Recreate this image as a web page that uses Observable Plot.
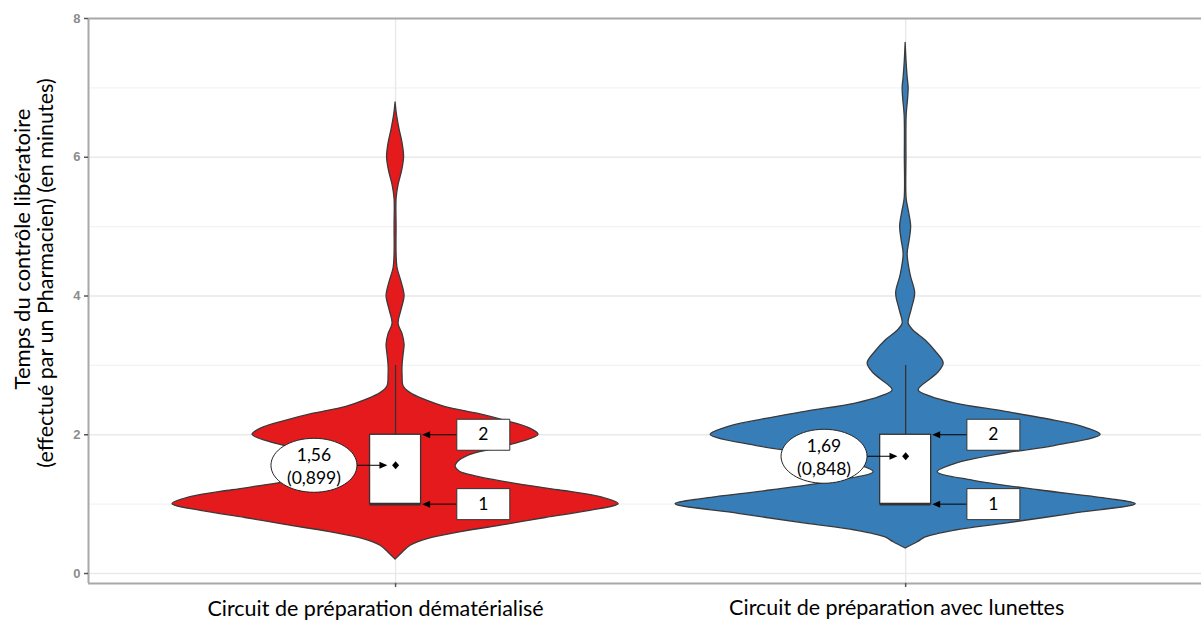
<!DOCTYPE html>
<html><head><meta charset="utf-8">
<script src="https://cdn.jsdelivr.net/npm/d3@7"></script>
<script src="https://cdn.jsdelivr.net/npm/@observablehq/plot@0.6"></script>
<style>html,body{margin:0;padding:0;background:#fff;overflow:hidden}</style>
</head><body><div id="chart"></div>
<script>
// ---------- DATA ----------
const groups = ["Circuit de préparation dématérialisé", "Circuit de préparation avec lunettes"];
const groupPos = [1, 2];

// Violin density profiles (relative density)
const densY1 = [0.2,0.3,0.4,0.5,0.6,0.7,0.8,0.9,1.0,1.1,1.2,1.3,1.4,1.47,1.54,1.6,1.7,1.8,1.9,2.0,2.1,2.2,2.3,2.4,2.5,2.6,2.7,2.85,3.0,3.15,3.3,3.45,3.6,3.8,4.0,4.2,4.4,4.6,5.0,5.4,5.6,5.8,6.0,6.2,6.4,6.6,6.79];
const dens1  = [0,7,15,33,67,110,150,193,223,205,163,117,80,64,60,62,73,100,127,143,133,110,83,50,30,15,8,7,7,8,9,7,3,6,9,6,2,1,1,1,3,6.5,8.5,7,4,1.5,0];
const densY2 = [0.36,0.45,0.52,0.62,0.72,0.86,1.0,1.08,1.2,1.34,1.46,1.58,1.73,1.84,2.0,2.1,2.2,2.33,2.45,2.55,2.64,2.8,2.9,3.03,3.2,3.36,3.5,3.6,3.8,4.04,4.3,4.6,4.8,5.0,5.2,5.4,6.0,6.6,6.85,7.0,7.15,7.4,7.65];
const dens2  = [0,12,20,50,100,167,230,200,133,67,32,50,100,150,195,180,150,100,50,25,13,25,33,38,30,20,8,3,6,9.5,5,2,4,5.5,3.5,1,0.8,1,2.5,3,2,0.8,0];

// Box-plot statistics
const q1 = [1, 1];
const medians = [1, 1];
const q3 = [2, 2];
const whiskerHigh = [3, 3];
const means = [1.56, 1.69];
const sds = [0.899, 0.848];

// Annotated box values
const boxLabelValues = [2, 1];

// Axis ticks
const yTicks = [0, 2, 4, 6, 8];
const yMinorTicks = [1, 3, 5, 7];
const yTitle1 = "Temps du contrôle libératoire";
const yTitle2 = "(effectué par un Pharmacien) (en minutes)";

// ---------- STYLE ----------
const fills = ["#e41a1c", "#377eb8"];
const violinScale = 0.451 / 230;   // density -> half-width in x units
const boxHalf = 0.05;
const font = "Lato, 'Open Sans', sans-serif";
const labelDx = [-20, -9];
const labelDy = [32, 31];

const comma = (v, n) => v.toFixed(n).replace(".", ",");

const ellipseSym = {draw(ctx) {
  const rx = 43, ry = 27, k = 0.5523;
  ctx.moveTo(rx, 0);
  ctx.bezierCurveTo(rx, ry*k, rx*k, ry, 0, ry);
  ctx.bezierCurveTo(-rx*k, ry, -rx, ry*k, -rx, 0);
  ctx.bezierCurveTo(-rx, -ry*k, -rx*k, -ry, 0, -ry);
  ctx.bezierCurveTo(rx*k, -ry, rx, -ry*k, rx, 0);
  ctx.closePath();
}};
const rectSym = {draw(ctx) { ctx.rect(-26.5, -15.5, 53, 31); }};
const headRight = {draw(ctx) { ctx.moveTo(0,0); ctx.lineTo(-8,-3.5); ctx.lineTo(-8,3.5); ctx.closePath(); }};
const headLeft = {draw(ctx) { ctx.moveTo(0,0); ctx.lineTo(8,-3.5); ctx.lineTo(8,3.5); ctx.closePath(); }};
const diamondSym = {draw(ctx) { ctx.moveTo(0,-4); ctx.lineTo(3.5,0); ctx.lineTo(0,4); ctx.lineTo(-3.5,0); ctx.closePath(); }};

// ---------- BUILD ----------
const violinData = [
  densY1.map((y, i) => ({g: 0, y, xl: groupPos[0] - dens1[i]*violinScale, xr: groupPos[0] + dens1[i]*violinScale})),
  densY2.map((y, i) => ({g: 1, y, xl: groupPos[1] - dens2[i]*violinScale, xr: groupPos[1] + dens2[i]*violinScale}))
];
const stats = groupPos.map((g, i) => ({
  g, q1: q1[i], med: medians[i], q3: q3[i], hi: whiskerHigh[i], mean: means[i],
  label: comma(means[i], 2) + "\n(" + comma(sds[i], 3) + ")"
}));
const boxLabels = groupPos.flatMap(g => boxLabelValues.map(v => ({g, v})));

const yDomain = [-0.144, 8];
const xDomain = [0.398, 2.580];
const annX = 0.172, annArrowStart = 0.12, ellX = -0.16;

const chart = Plot.plot({
  width: 1201, height: 620,
  marginLeft: 88, marginRight: 0, marginTop: 18, marginBottom: 37,
  style: {fontFamily: font, background: "#fff"},
  x: {type: "linear", domain: xDomain, axis: null},
  y: {domain: yDomain, axis: null},
  marks: [
    // grid
    Plot.ruleY(yMinorTicks, {stroke: "#f3f3f3", strokeWidth: 1.2}),
    Plot.ruleY(yTicks.slice(0, -1), {stroke: "#e9e9e9", strokeWidth: 1.4}),
    Plot.ruleX(groupPos, {stroke: "#e9e9e9", strokeWidth: 1.4}),
    // violins
    ...violinData.map((d, i) => Plot.areaX(d, {y: "y", x1: "xl", x2: "xr", fill: fills[i], stroke: "#3a3a3a", strokeWidth: 1.3, curve: "catmull-rom"})),
    // whiskers
    Plot.ruleX(stats, {x: "g", y1: "q3", y2: "hi", stroke: "#333", strokeWidth: 1.3}),
    // boxes
    Plot.rect(stats, {x1: d => d.g - boxHalf, x2: d => d.g + boxHalf, y1: "q1", y2: "q3", fill: "#fff", stroke: "#333", strokeWidth: 1.3}),
    Plot.ruleY(stats, {y: "med", x1: d => d.g - boxHalf, x2: d => d.g + boxHalf, stroke: "#333", strokeWidth: 2.6}),
    // means
    Plot.dot(stats, {x: "g", y: "mean", symbol: diamondSym, fill: "#000", stroke: "none"}),
    // ellipse annotation
    Plot.link(stats, {x1: d => d.g + ellX + 43/510, x2: d => d.g - 0.02, y1: "mean", y2: "mean", stroke: "#000", strokeWidth: 1}),
    Plot.dot(stats, {x: d => d.g - 0.016, y: "mean", symbol: headRight, fill: "#000", stroke: "none"}),
    Plot.dot(stats, {x: d => d.g + ellX, y: "mean", symbol: ellipseSym, fill: "#fff", stroke: "#222", strokeWidth: 1}),
    Plot.text(stats, {x: d => d.g + ellX, y: "mean", text: "label", fontSize: 17.5, lineHeight: 1.3, fill: "#000", lineAnchor: "middle"}),
    // box-value annotations
    Plot.link(boxLabels, {x1: d => d.g + annArrowStart, x2: d => d.g + boxHalf + 0.012, y1: "v", y2: "v", stroke: "#000", strokeWidth: 1}),
    Plot.dot(boxLabels, {x: d => d.g + boxHalf + 0.002, y: "v", symbol: headLeft, fill: "#000", stroke: "none"}),
    Plot.dot(boxLabels, {x: d => d.g + annX, y: "v", symbol: rectSym, fill: "#fff", stroke: "#333", strokeWidth: 1}),
    Plot.text(boxLabels, {x: d => d.g + annX, y: "v", text: d => String(d.v), fontSize: 17.5, fill: "#000"}),
    // panel borders
    Plot.ruleY([yDomain[0]], {stroke: "#a8a8a8", strokeWidth: 2}),
    Plot.ruleY([8], {stroke: "#a8a8a8", strokeWidth: 2}),
    Plot.ruleX([xDomain[0]], {stroke: "#a8a8a8", strokeWidth: 2}),
    // axes
    Plot.axisY({ticks: yTicks, tickSize: 4, tickPadding: 4, label: null, fontSize: 13, fontWeight: "bold", fontFamily: "'Liberation Sans', Arial, sans-serif", stroke: "#555", fill: "#8c8c8c", strokeWidth: 1.5}),
    Plot.axisX({ticks: groupPos, tickSize: 4, tickFormat: () => "", label: null, stroke: "#555", strokeWidth: 1.5}),
    // x labels
    ...groups.map((name, i) => Plot.text([name], {x: groupPos[i], frameAnchor: "bottom", dx: labelDx[i], dy: labelDy[i], text: d => d, fontSize: 21.5, lineAnchor: "bottom", fill: "#000"})),
    // y title
    Plot.text([yTitle1], {frameAnchor: "left", textAnchor: "middle", dx: -66, dy: -52, text: d => d, rotate: -90, fontSize: 22, fill: "#000"}),
    Plot.text([yTitle2], {frameAnchor: "left", textAnchor: "middle", dx: -42, dy: -28, text: d => d, rotate: -90, fontSize: 21.5, fill: "#000"})
  ]
});
document.getElementById("chart").appendChild(chart);
</script>
</body></html>
